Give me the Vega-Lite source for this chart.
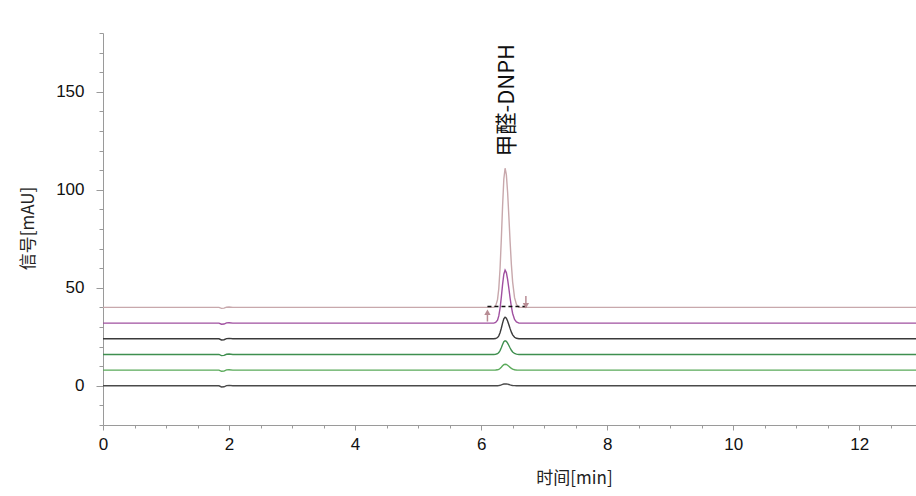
{
"$schema": "https://vega.github.io/schema/vega-lite/v6.json",
"width": 813, "height": 392,
"autosize": {"type": "none"},
"padding": {"left": 103, "top": 33, "right": 0, "bottom": 71},
"background": "white",
"config": {"view": {"stroke": null}, "axis": {"grid": false, "domainColor": "#9a9a9a", "tickColor": "#9a9a9a", "labelColor": "#111", "labelFont": "Liberation Sans", "labelFontSize": 17, "titleFont": "Noto Sans CJK SC", "titleFontSize": 17, "titleFontWeight": "normal", "titleColor": "#222"}},
"datasets": {
"traces": [
{"s":"A","x":0,"y":0},{"s":"A","x":1.84,"y":0},{"s":"A","x":1.88,"y":-0.6},{"s":"A","x":1.92,"y":-0.5},{"s":"A","x":1.96,"y":0.1},{"s":"A","x":2.0,"y":0.2},{"s":"A","x":2.06,"y":0},
{"s":"A","x":6.2,"y":0},{"s":"A","x":6.23,"y":0.01},{"s":"A","x":6.26,"y":0.06},{"s":"A","x":6.28,"y":0.14},{"s":"A","x":6.3,"y":0.28},{"s":"A","x":6.32,"y":0.49},{"s":"A","x":6.34,"y":0.73},{"s":"A","x":6.36,"y":0.92},{"s":"A","x":6.38,"y":1},{"s":"A","x":6.4,"y":0.95},{"s":"A","x":6.42,"y":0.83},{"s":"A","x":6.44,"y":0.65},{"s":"A","x":6.46,"y":0.47},{"s":"A","x":6.48,"y":0.31},{"s":"A","x":6.5,"y":0.18},{"s":"A","x":6.53,"y":0.07},{"s":"A","x":6.56,"y":0.02},{"s":"A","x":6.6,"y":0},{"s":"A","x":12.9,"y":0},
{"s":"B","x":0,"y":8},{"s":"B","x":1.84,"y":8},{"s":"B","x":1.88,"y":7.4},{"s":"B","x":1.92,"y":7.5},{"s":"B","x":1.96,"y":8.1},{"s":"B","x":2.0,"y":8.2},{"s":"B","x":2.06,"y":8},
{"s":"B","x":6.2,"y":8},{"s":"B","x":6.23,"y":8.03},{"s":"B","x":6.26,"y":8.17},{"s":"B","x":6.28,"y":8.41},{"s":"B","x":6.3,"y":8.83},{"s":"B","x":6.32,"y":9.46},{"s":"B","x":6.34,"y":10.18},{"s":"B","x":6.36,"y":10.77},{"s":"B","x":6.38,"y":11},{"s":"B","x":6.4,"y":10.86},{"s":"B","x":6.42,"y":10.48},{"s":"B","x":6.44,"y":9.96},{"s":"B","x":6.46,"y":9.41},{"s":"B","x":6.48,"y":8.92},{"s":"B","x":6.5,"y":8.55},{"s":"B","x":6.53,"y":8.21},{"s":"B","x":6.56,"y":8.07},{"s":"B","x":6.6,"y":8},{"s":"B","x":12.9,"y":8},
{"s":"C","x":0,"y":16},{"s":"C","x":1.84,"y":16},{"s":"C","x":1.88,"y":15.4},{"s":"C","x":1.92,"y":15.5},{"s":"C","x":1.96,"y":16.1},{"s":"C","x":2.0,"y":16.2},{"s":"C","x":2.06,"y":16},
{"s":"C","x":6.2,"y":16},{"s":"C","x":6.23,"y":16.08},{"s":"C","x":6.26,"y":16.39},{"s":"C","x":6.28,"y":16.95},{"s":"C","x":6.3,"y":17.95},{"s":"C","x":6.32,"y":19.41},{"s":"C","x":6.34,"y":21.08},{"s":"C","x":6.36,"y":22.46},{"s":"C","x":6.38,"y":23},{"s":"C","x":6.4,"y":22.68},{"s":"C","x":6.42,"y":21.79},{"s":"C","x":6.44,"y":20.57},{"s":"C","x":6.46,"y":19.28},{"s":"C","x":6.48,"y":18.14},{"s":"C","x":6.5,"y":17.27},{"s":"C","x":6.53,"y":16.49},{"s":"C","x":6.56,"y":16.15},{"s":"C","x":6.6,"y":16},{"s":"C","x":12.9,"y":16},
{"s":"D","x":0,"y":24},{"s":"D","x":1.84,"y":24},{"s":"D","x":1.88,"y":23.4},{"s":"D","x":1.92,"y":23.5},{"s":"D","x":1.96,"y":24.1},{"s":"D","x":2.0,"y":24.2},{"s":"D","x":2.06,"y":24},
{"s":"D","x":6.2,"y":24},{"s":"D","x":6.23,"y":24.12},{"s":"D","x":6.26,"y":24.62},{"s":"D","x":6.28,"y":25.49},{"s":"D","x":6.3,"y":27.06},{"s":"D","x":6.32,"y":29.36},{"s":"D","x":6.34,"y":31.99},{"s":"D","x":6.36,"y":34.15},{"s":"D","x":6.38,"y":35},{"s":"D","x":6.4,"y":34.49},{"s":"D","x":6.42,"y":33.1},{"s":"D","x":6.44,"y":31.18},{"s":"D","x":6.46,"y":29.16},{"s":"D","x":6.48,"y":27.37},{"s":"D","x":6.5,"y":26},{"s":"D","x":6.53,"y":24.77},{"s":"D","x":6.56,"y":24.24},{"s":"D","x":6.6,"y":24},{"s":"D","x":12.9,"y":24},
{"s":"E","x":0,"y":32},{"s":"E","x":1.84,"y":32},{"s":"E","x":1.88,"y":31.4},{"s":"E","x":1.92,"y":31.5},{"s":"E","x":1.96,"y":32.1},{"s":"E","x":2.0,"y":32.2},{"s":"E","x":2.06,"y":32},
{"s":"E","x":6.2,"y":32},{"s":"E","x":6.23,"y":32.3},{"s":"E","x":6.26,"y":33.51},{"s":"E","x":6.28,"y":35.65},{"s":"E","x":6.3,"y":39.51},{"s":"E","x":6.32,"y":45.15},{"s":"E","x":6.34,"y":51.6},{"s":"E","x":6.36,"y":56.92},{"s":"E","x":6.38,"y":59},{"s":"E","x":6.4,"y":57.76},{"s":"E","x":6.42,"y":54.33},{"s":"E","x":6.44,"y":49.63},{"s":"E","x":6.46,"y":44.66},{"s":"E","x":6.48,"y":40.26},{"s":"E","x":6.5,"y":36.91},{"s":"E","x":6.53,"y":33.89},{"s":"E","x":6.56,"y":32.59},{"s":"E","x":6.6,"y":32},{"s":"E","x":12.9,"y":32},
{"s":"F","x":0,"y":40},{"s":"F","x":1.84,"y":40},{"s":"F","x":1.88,"y":39.5},{"s":"F","x":1.92,"y":39.6},{"s":"F","x":1.96,"y":40.1},{"s":"F","x":2.0,"y":40.2},{"s":"F","x":2.06,"y":40},
{"s":"F","x":6.2,"y":40},{"s":"F","x":6.23,"y":40.78},{"s":"F","x":6.26,"y":43.98},{"s":"F","x":6.28,"y":49.59},{"s":"F","x":6.3,"y":59.74},{"s":"F","x":6.32,"y":74.58},{"s":"F","x":6.34,"y":91.55},{"s":"F","x":6.36,"y":105.53},{"s":"F","x":6.38,"y":111},{"s":"F","x":6.4,"y":107.73},{"s":"F","x":6.42,"y":98.72},{"s":"F","x":6.44,"y":86.36},{"s":"F","x":6.46,"y":73.3},{"s":"F","x":6.48,"y":61.73},{"s":"F","x":6.5,"y":52.92},{"s":"F","x":6.53,"y":44.97},{"s":"F","x":6.56,"y":41.56},{"s":"F","x":6.6,"y":40},{"s":"F","x":12.9,"y":40}
]
},
"encoding": {
"x": {"field": "x", "type": "quantitative", "scale": {"domain": [0, 12.9], "nice": false, "zero": false},
 "axis": {"title": "时间[min]", "titleX": 471, "titleY": 53, "titleBaseline": "middle", "values": [0,0.5,1,1.5,2,2.5,3,3.5,4,4.5,5,5.5,6,6.5,7,7.5,8,8.5,9,9.5,10,10.5,11,11.5,12,12.5], "labelExpr": "datum.value % 2 === 0 ? format(datum.value, 'd') : ''", "tickSize": {"condition": {"test": "datum.value % 2 === 0", "value": 5}, "value": 3}, "labelPadding": 6, "labelFlush": false, "labelOverlap": false}},
"y": {"field": "y", "type": "quantitative", "scale": {"domain": [-20, 180], "nice": false, "zero": false},
 "axis": {"title": "信号[mAU]", "titleX": -75, "titleY": 195, "titleAngle": 270, "titleBaseline": "middle", "titleAlign": "center", "values": [-20,-10,0,10,20,30,40,50,60,70,80,90,100,110,120,130,140,150,160,170,180], "labelExpr": "datum.value % 50 === 0 ? format(datum.value, 'd') : ''", "tickSize": {"condition": {"test": "datum.value % 50 === 0", "value": 7}, "value": 4}, "labelPadding": 12, "labelOverlap": false}}
},
"layer": [
{"data": {"name": "traces"}, "mark": {"type": "line", "strokeWidth": 1.4},
 "encoding": {"color": {"field": "s", "type": "nominal", "legend": null, "scale": {"domain": ["A","B","C","D","E","F"], "range": ["#4a4a4a","#5aaa5a","#3f8f4f","#3a3a3a","#a050a0","#c8a8ac"]}}}},
{"data": {"values": [{"x": 6.1, "y": 40.4, "x2": 6.72}]}, "mark": {"type": "rule", "color": "#111", "strokeWidth": 1.5, "strokeDash": [4, 3]},
 "encoding": {"x2": {"field": "x2"}}},
{"data": {"values": [{"x": 6.1, "y": 32.8, "y2": 37.5}, {"x": 6.71, "y": 40.8, "y2": 45.8}]}, "mark": {"type": "rule", "color": "#b88c94", "strokeWidth": 1.5},
 "encoding": {"y2": {"field": "y2"}}},
{"data": {"values": [{"x": 6.1, "y": 37.5, "d": "up"}, {"x": 6.71, "y": 40.8, "d": "down"}]}, "mark": {"type": "point", "filled": true, "color": "#b88c94", "size": 40, "opacity": 1},
 "encoding": {"shape": {"field": "d", "type": "nominal", "legend": null, "scale": {"domain": ["up", "down"], "range": ["triangle-up", "triangle-down"]}}}},
{"data": {"values": [{"x": 6.41, "y": 117, "label": "甲醛-DNPH"}]}, "mark": {"type": "text", "angle": 270, "align": "left", "baseline": "middle", "font": "Noto Sans CJK SC", "fontSize": 22, "color": "#111"},
 "encoding": {"text": {"field": "label"}}}
]
}
